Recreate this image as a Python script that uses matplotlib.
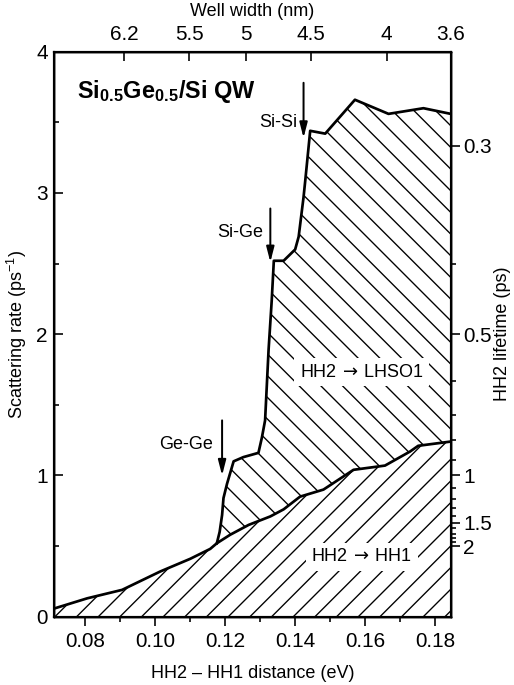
import numpy as np
import matplotlib
matplotlib.use('Agg')
import matplotlib.pyplot as plt
from matplotlib.ticker import FixedLocator, MultipleLocator

plt.rcParams['font.family'] = ['Liberation Sans', 'DejaVu Sans']
plt.rcParams['font.size'] = 10
plt.rcParams['xtick.labelsize'] = 11.5
plt.rcParams['ytick.labelsize'] = 11.5
plt.rcParams['mathtext.fontset'] = 'custom'
plt.rcParams['mathtext.rm'] = 'Liberation Sans'
plt.rcParams['mathtext.bf'] = 'Liberation Sans:bold'
plt.rcParams['mathtext.sf'] = 'DejaVu Sans'
plt.rcParams['hatch.linewidth'] = 0.75

# HH2 -> HH1 scattering rate (ps^-1) vs HH2-HH1 distance (eV)
e_hh1 = [0.0712, 0.0805, 0.0905, 0.1014, 0.1100, 0.1157, 0.1176, 0.1214, 0.1267,
         0.1329, 0.1367, 0.1414, 0.1481, 0.1567, 0.1657, 0.1729, 0.1752, 0.1845]
r_hh1 = [0.059, 0.13, 0.19, 0.32, 0.41, 0.48, 0.52, 0.58, 0.65,
         0.71, 0.76, 0.85, 0.90, 1.04, 1.07, 1.17, 1.21, 1.24]

# total rate (HH2 -> HH1 + HH2 -> LHSO1)
e_tot = [0.1176, 0.1184, 0.1191, 0.1195, 0.1205, 0.1224, 0.1252, 0.1295, 0.1305,
         0.1314, 0.1324, 0.1333, 0.1339, 0.1367, 0.1400, 0.1410, 0.1424, 0.1429,
         0.1443, 0.1486, 0.1571, 0.1667, 0.1767, 0.1845]
r_tot = [0.52, 0.60, 0.72, 0.84, 0.94, 1.10, 1.13, 1.16, 1.27,
         1.39, 1.89, 2.24, 2.52, 2.52, 2.60, 2.69, 2.97, 3.09,
         3.44, 3.42, 3.66, 3.56, 3.60, 3.56]

# top axis: well width (nm) at HH2-HH1 distance (eV)
well_width = ['6.2', '5.5', '5', '4.5', '4', '3.6']
well_energy = [0.0911, 0.1097, 0.1259, 0.1445, 0.1662, 0.1845]

# right axis: HH2 lifetime (ps)
life_major = [0.3, 0.5, 1, 1.5, 2]
life_minor = [0.4, 0.6, 0.7, 0.8, 0.9, 1.1, 1.2, 1.3, 1.4, 1.6, 1.7, 1.8, 1.9]

fig = plt.figure(figsize=(514 / 130, 685 / 130), dpi=130)
ax = fig.add_axes([0.1056, 0.0997, 0.7713, 0.8248])

ax.fill_between(e_hh1, 0, r_hh1, facecolor='white', edgecolor='black',
                hatch='//', linewidth=0)
ax.plot(e_hh1, r_hh1, color='black', lw=1.5)

# HH2 -> LHSO1 region between the two curves
e_low = [e for e in e_hh1 if e >= e_tot[0]]
r_low = [r for e, r in zip(e_hh1, r_hh1) if e >= e_tot[0]]
poly_x = list(e_tot) + e_low[::-1]
poly_y = list(r_tot) + r_low[::-1]
ax.fill(poly_x, poly_y, facecolor='white', edgecolor='black', hatch='\\\\',
        linewidth=0)
ax.plot(e_tot, r_tot, color='black', lw=1.5)

ax.set_xlim(0.0711, 0.1845)
ax.set_ylim(0, 4)
ax.xaxis.set_major_locator(FixedLocator([0.08, 0.10, 0.12, 0.14, 0.16, 0.18]))
ax.xaxis.set_minor_locator(MultipleLocator(0.01))
ax.set_xticklabels(['0.08', '0.10', '0.12', '0.14', '0.16', '0.18'])
ax.yaxis.set_major_locator(MultipleLocator(1))
ax.yaxis.set_minor_locator(MultipleLocator(0.5))
ax.tick_params(axis='x', which='both', direction='out', top=False)
ax.tick_params(axis='y', which='both', direction='in', right=False)
ax.tick_params(which='major', length=5, width=0.9)
ax.tick_params(which='minor', length=3, width=0.9)
for s in ax.spines.values():
    s.set_linewidth(1.2)

ax.set_xlabel('HH2 – HH1 distance (eV)', labelpad=8)
ax.set_ylabel('Scattering rate (ps$^{-1}$)', labelpad=4)

ax_top = ax.twiny()
ax_top.set_xlim(ax.get_xlim())
ax_top.set_xticks(well_energy)
ax_top.set_xticklabels(well_width)
ax_top.tick_params(axis='x', direction='in', length=5, width=0.9, pad=4)
ax_top.set_xlabel('Well width (nm)', labelpad=5)

ax_r = ax.twinx()
ax_r.set_ylim(ax.get_ylim())
ax_r.set_yticks([1 / v for v in life_major])
ax_r.set_yticklabels(['0.3', '0.5', '1', '1.5', '2'])
ax_r.set_yticks([1 / v for v in life_minor], minor=True)
ax_r.tick_params(axis='y', which='major', direction='out', length=5, width=0.9, pad=2)
ax_r.tick_params(axis='y', which='minor', direction='out', length=3, width=0.9)
ax_r.set_ylabel('HH2 lifetime (ps)', labelpad=1)

ax.text(0.0776, 3.72, r'Si$_{\mathbf{0.5}}$Ge$_{\mathbf{0.5}}$/Si QW',
        fontsize=13, fontweight='bold', va='center', ha='left')

arrow = dict(arrowstyle='-|>,head_length=0.7,head_width=0.18', color='black',
             lw=1.1, shrinkA=0, shrinkB=0)
ax.annotate('', xy=(0.1424, 3.39), xytext=(0.1424, 3.78), arrowprops=arrow)
ax.text(0.1406, 3.50, 'Si-Si', ha='right', va='center')
ax.annotate('', xy=(0.1329, 2.51), xytext=(0.1329, 2.89), arrowprops=arrow)
ax.text(0.1308, 2.72, 'Si-Ge', ha='right', va='center')
ax.annotate('', xy=(0.1191, 1.00), xytext=(0.1191, 1.39), arrowprops=arrow)
ax.text(0.1166, 1.22, 'Ge-Ge', ha='right', va='center')

box = dict(facecolor='white', edgecolor='none', pad=3)
ax.text(0.1590, 1.73, r'HH2$\,\mathsf{\rightarrow}\,$LHSO1', ha='center', va='center', bbox=box)
ax.text(0.1590, 0.425, r'HH2$\,\mathsf{\rightarrow}\,$HH1', ha='center', va='center', bbox=box)

fig.savefig('out.png', dpi=130)
